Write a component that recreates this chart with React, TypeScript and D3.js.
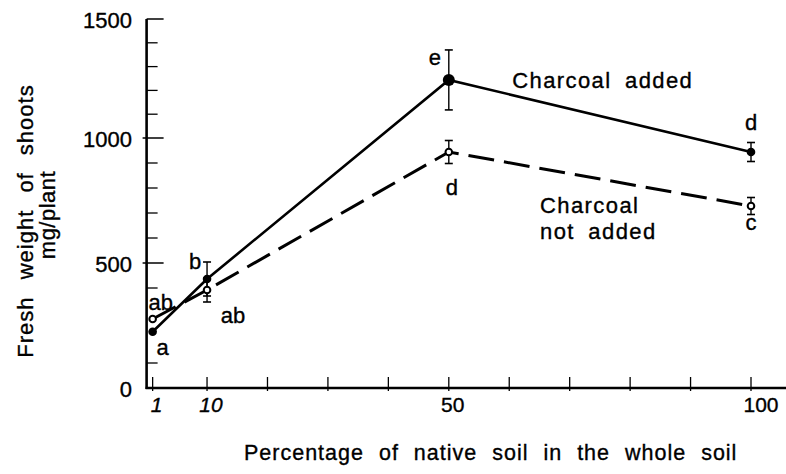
import React from "react";
// @ts-ignore
import * as d3 from "d3";

const WIDTH = 786;
const HEIGHT = 474;

// percentage of native soil
const soilPct = [1, 10, 50, 100];
// fresh weight of shoots, mg/plant
const charcoalAdded = [225, 436, 1244, 944];
const charcoalAddedErr = [0, 68, 126, 38];
const charcoalNotAdded = [276, 392, 944, 728];
const charcoalNotAddedErr = [0, 48, 46, 34];
// significance letters
const addedLetters = ["a", "b", "e", "d"];
const notAddedLetters = ["ab", "ab", "d", "c"];

const yMajorTicks = [0, 500, 1000, 1500];
const yMinorTicks = [100, 400, 600, 700, 800, 900, 1100, 1200, 1300, 1400];
const xTicks = [1, 10, 20, 30, 40, 50, 60, 70, 80, 90, 100];
const xTickLabels = [1, 10, 50, 100];

const FONT = "'Liberation Sans', Arial, Helvetica, sans-serif";

const App = () => {
  const svgRef = React.useRef<SVGSVGElement>(null);

  React.useEffect(() => {
    const svg = d3.select(svgRef.current);
    svg.selectAll("*").remove();

    const x = d3.scaleLinear().domain([0, 100]).range([146.6, 751]);
    const y = d3
      .scaleLinear()
      .domain([0, 500, 1000, 1500])
      .range([388, 263, 138, 19]);

    const g = svg
      .append("g")
      .attr("font-family", FONT)
      .attr("fill", "#000");

    // text looks a bit heavier in the print
    const heavy = (sel: any) => sel.attr("stroke", "#000").attr("stroke-width", 0.35);

    // axes
    g.append("line")
      .attr("x1", x(0)).attr("x2", x(0))
      .attr("y1", y(1500)).attr("y2", y(0) + 1)
      .attr("stroke", "#000").attr("stroke-width", 2.6);
    g.append("line")
      .attr("x1", x(0) - 1).attr("x2", WIDTH)
      .attr("y1", y(0)).attr("y2", y(0))
      .attr("stroke", "#000").attr("stroke-width", 2.6);

    g.selectAll(".ymaj")
      .data(yMajorTicks.filter((d) => d > 0))
      .join("line")
      .attr("x1", (d: number) => (d === 1500 ? x(0) : x(0) - 4))
      .attr("x2", x(0) + 17)
      .attr("y1", (d: number) => y(d))
      .attr("y2", (d: number) => y(d))
      .attr("stroke", "#000").attr("stroke-width", 1.5);

    g.selectAll(".ymin")
      .data(yMinorTicks)
      .join("line")
      .attr("x1", x(0))
      .attr("x2", x(0) + 11)
      .attr("y1", (d: number) => y(d))
      .attr("y2", (d: number) => y(d))
      .attr("stroke", "#000").attr("stroke-width", 1.3);

    g.selectAll(".ylab")
      .data(yMajorTicks)
      .join("text")
      .attr("x", 132)
      .attr("y", (d: number) => y(d) + 9)
      .attr("text-anchor", "end")
      .attr("font-size", 22)
      .call(heavy)
      .text((d: number) => d);

    g.selectAll(".xtick")
      .data(xTicks)
      .join("line")
      .attr("x1", (d: number) => x(d))
      .attr("x2", (d: number) => x(d))
      .attr("y1", y(0) - 11)
      .attr("y2", y(0) + 3)
      .attr("stroke", "#000").attr("stroke-width", 1.3);

    g.selectAll(".xlab")
      .data(xTickLabels)
      .join("text")
      .attr("x", (d: number) => x(d) + (d === 100 ? 10 : 4))
      .attr("y", 412)
      .attr("text-anchor", "middle")
      .attr("font-size", 21)
      .attr("font-style", (d: number) => (d <= 10 ? "italic" : "normal"))
      .call(heavy)
      .text((d: number) => d);

    // axis titles
    g.append("text")
      .attr("x", 244)
      .attr("y", 460)
      .attr("font-size", 21.5)
      .attr("letter-spacing", 1)
      .attr("word-spacing", 8)
      .call(heavy)
      .text("Percentage of native soil in the whole soil");

    g.append("text")
      .attr("transform", "translate(33,221) rotate(-90)")
      .attr("text-anchor", "middle")
      .attr("font-size", 22)
      .attr("letter-spacing", 1)
      .attr("word-spacing", 10)
      .call(heavy)
      .text("Fresh weight of shoots");
    g.append("text")
      .attr("transform", "translate(55,215) rotate(-90)")
      .attr("text-anchor", "middle")
      .attr("font-size", 22)
      .attr("letter-spacing", 0.5)
      .call(heavy)
      .text("mg/plant");

    const line = d3
      .line()
      .x((d: any) => x(d[0]))
      .y((d: any) => y(d[1]));

    const addedPts = soilPct.map((p, i) => [p, charcoalAdded[i]]);
    const notAddedPts = soilPct.map((p, i) => [p, charcoalNotAdded[i]]);

    g.append("path")
      .attr("d", line(notAddedPts))
      .attr("fill", "none")
      .attr("stroke", "#000")
      .attr("stroke-width", 3)
      .attr("stroke-dasharray", "26 10");

    g.append("path")
      .attr("d", line(addedPts))
      .attr("fill", "none")
      .attr("stroke", "#000")
      .attr("stroke-width", 2.6);

    // error bars
    const errBars = (vals: number[], errs: number[]) => {
      soilPct.forEach((p, i) => {
        if (!errs[i]) return;
        const cx = x(p);
        const top = y(vals[i] + errs[i]);
        const bot = y(vals[i] - errs[i]);
        g.append("line")
          .attr("x1", cx).attr("x2", cx).attr("y1", top).attr("y2", bot)
          .attr("stroke", "#000").attr("stroke-width", 1.4);
        [top, bot].forEach((yy) =>
          g.append("line")
            .attr("x1", cx - 4).attr("x2", cx + 4).attr("y1", yy).attr("y2", yy)
            .attr("stroke", "#000").attr("stroke-width", 1.6)
        );
      });
    };
    errBars(charcoalAdded, charcoalAddedErr);
    errBars(charcoalNotAdded, charcoalNotAddedErr);

    // markers
    g.selectAll(".open")
      .data(notAddedPts)
      .join("circle")
      .attr("cx", (d: any) => x(d[0]))
      .attr("cy", (d: any) => y(d[1]))
      .attr("r", 3.3)
      .attr("fill", "#fff")
      .attr("stroke", "#000")
      .attr("stroke-width", 2);

    g.selectAll(".filled")
      .data(addedPts)
      .join("circle")
      .attr("cx", (d: any) => x(d[0]))
      .attr("cy", (d: any) => y(d[1]))
      .attr("r", (d: any) => (d[0] === 50 ? 6 : 4.3))
      .attr("fill", "#000");

    // significance letters: offsets from the point
    const addedOffsets = [[10, 23], [-12, -10], [-14, -15], [0, -22]];
    const notAddedOffsets = [[8, -9], [26, 33], [3, 43], [0, 24]];
    const letters = (pts: number[][], labs: string[], offs: number[][]) =>
      g.selectAll(null)
        .data(pts)
        .join("text")
        .attr("x", (d: any, i: number) => x(d[0]) + offs[i][0])
        .attr("y", (d: any, i: number) => y(d[1]) + offs[i][1])
        .attr("text-anchor", "middle")
        .attr("font-size", 22)
        .call(heavy)
        .text((d: any, i: number) => labs[i]);
    letters(addedPts, addedLetters, addedOffsets);
    letters(notAddedPts, notAddedLetters, notAddedOffsets);

    // series labels
    g.append("text")
      .attr("x", x(60.5))
      .attr("y", y(1210))
      .attr("font-size", 22)
      .attr("letter-spacing", 1.4)
      .attr("word-spacing", 6)
      .call(heavy)
      .text("Charcoal added");
    const na = g.append("text")
      .attr("x", x(65.1))
      .attr("y", y(700))
      .attr("font-size", 22)
      .attr("letter-spacing", 1.4)
      .attr("word-spacing", 6)
      .call(heavy);
    na.append("tspan").attr("x", x(65.1)).text("Charcoal");
    na.append("tspan").attr("x", x(65.1)).attr("dy", 26).text("not added");
  }, []);

  return (
    <div>
      <style>{`body{margin:0;background:#fff}`}</style>
      <svg width={WIDTH} height={HEIGHT} ref={svgRef} style={{ display: "block" }} />
    </div>
  );
};

export default App;
